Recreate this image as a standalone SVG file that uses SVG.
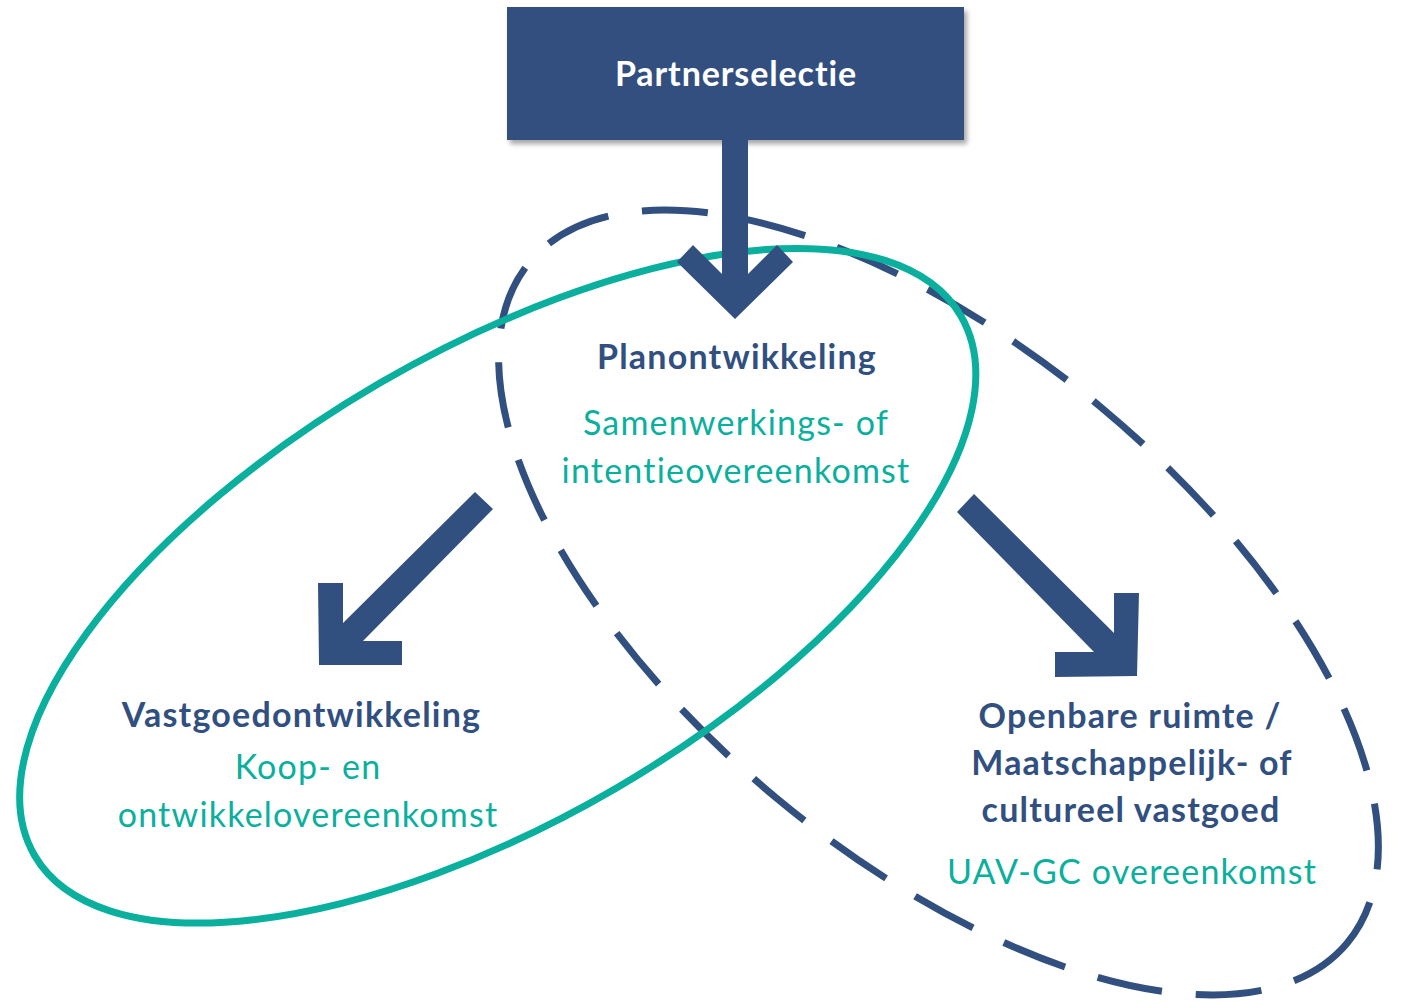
<svg xmlns="http://www.w3.org/2000/svg" width="1402" height="1002" viewBox="0 0 1402 1002">
<defs>
<style>
.blue{fill:#31507F}
text{font-variant-ligatures:none}
.bt{font-family:Lato,"Liberation Sans",sans-serif;font-weight:bold;fill:#31507F;text-anchor:middle;font-size:34px;letter-spacing:1.2px}
.tt{font-family:Lato,"Liberation Sans",sans-serif;fill:#0BAF9D;text-anchor:middle;font-size:34px;letter-spacing:1.2px}
.wt{font-family:Lato,"Liberation Sans",sans-serif;font-weight:bold;fill:#FFFFFF;text-anchor:middle;font-size:34px;letter-spacing:0.9px}
</style>
<filter id="sh" x="-10%" y="-10%" width="120%" height="130%">
<feDropShadow dx="3" dy="4" stdDeviation="2.5" flood-color="#000" flood-opacity="0.35"/>
</filter>
</defs>
<rect width="1402" height="1002" fill="#FFFFFF"/>
<g id="ellipses">
<ellipse id="dashed-ellipse" cx="938.5" cy="602.5" rx="532" ry="254" transform="rotate(39.8 938.5 602.5)" fill="none" stroke="#31507F" stroke-width="7" stroke-dasharray="66 34"/>
<ellipse id="teal-ellipse" cx="497.75" cy="585.75" rx="536" ry="234.5" transform="rotate(-30.2 497.75 585.75)" fill="none" stroke="#0BAF9D" stroke-width="7"/>
</g>
<g id="node-partnerselectie">
<rect x="507" y="7" width="457" height="133" class="blue" filter="url(#sh)"/>
<text x="736" y="86" class="wt">Partnerselectie</text>
</g>
<g id="connectors">
<polygon class="blue" points="722,140 748,140 748,274 777,245 793,262 735,319 677,262 693,245 722,274"/>
<polygon class="blue" points="475,492 493,509 363,641 402,641 402,665 319,665 318,583 343,583 343,623"/>
<polygon class="blue" points="974,494 1114,633 1114,593 1139,593 1137,676 1055,677 1055,652 1094,652 957,512"/>
</g>
<g id="node-planontwikkeling">
<text x="737" y="369" class="bt">Planontwikkeling</text>
<text x="736" y="435" class="tt">Samenwerkings- of</text>
<text x="736" y="483" class="tt">intentieovereenkomst</text>
</g>
<g id="node-vastgoed">
<text x="301.5" y="727" class="bt">Vastgoedontwikkeling</text>
<text x="308" y="779" class="tt">Koop- en</text>
<text x="308" y="827" class="tt">ontwikkelovereenkomst</text>
</g>
<g id="node-openbare">
<text x="1130" y="728" class="bt">Openbare ruimte /</text>
<text x="1132" y="775" class="bt">Maatschappelijk- of</text>
<text x="1131" y="822" class="bt">cultureel vastgoed</text>
<text x="1132" y="884" class="tt">UAV-GC overeenkomst</text>
</g>
</svg>
